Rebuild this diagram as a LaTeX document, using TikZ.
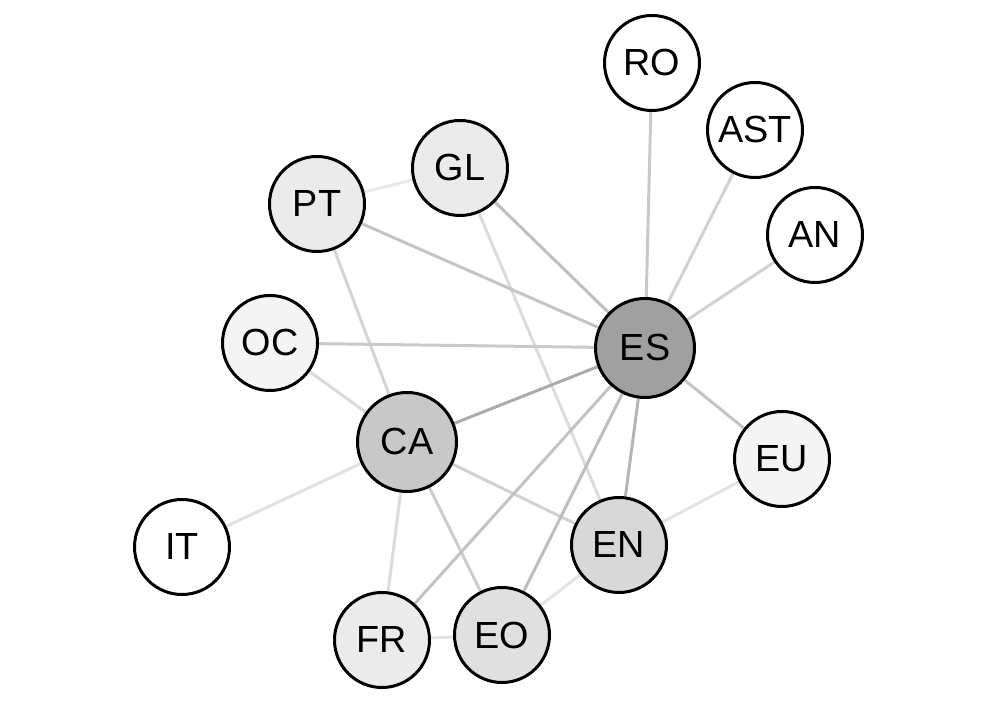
\documentclass[tikz,border=0pt]{standalone}
\usepackage{fontspec}
\setmainfont{Liberation Sans}
\usepackage{tikz}
\usetikzlibrary{backgrounds}
\definecolor{esgray}{HTML}{A0A0A0}
\definecolor{cagray}{HTML}{C8C8C8}
\definecolor{engray}{HTML}{D8D8D8}
\definecolor{eogray}{HTML}{E0E0E0}
\definecolor{ltgray}{HTML}{EBEBEB}
\definecolor{palegray}{HTML}{F4F4F4}

\begin{document}
\begin{tikzpicture}[
    lang/.style={circle,draw=black,line width=1.7pt,fill=white,
                 minimum size=1.9cm,inner sep=0pt,
                 font=\fontsize{21.5}{26}\selectfont},
    big/.style={minimum size=1.98cm},
    link/.style={line width=1.7pt,draw=#1},
    link/.default={black!20}
  ]
    \useasboundingbox (0,0) rectangle (20,14.12);

    % languages (pixel positions / 50)
    \node[lang]                  (ro)  at (13.04,12.86) {RO};
    \node[lang]                  (ast) at (15.10,11.52) {AST};
    \node[lang]                  (an)  at (16.30,9.42)  {AN};
    \node[lang,fill=ltgray]      (gl)  at (9.20,10.76)  {GL};
    \node[lang,fill=ltgray]      (pt)  at (6.34,10.04)  {PT};
    \node[lang,fill=palegray]    (oc)  at (5.40,7.26)   {OC};
    \node[lang,big,fill=esgray]  (es)  at (12.90,7.16)  {ES};
    \node[lang,big,fill=cagray]  (ca)  at (8.14,5.28)   {CA};
    \node[lang,fill=palegray]    (eu)  at (15.64,4.94)  {EU};
    \node[lang]                  (it)  at (3.64,3.18)   {IT};
    \node[lang,fill=engray]      (en)  at (12.38,3.22)  {EN};
    \node[lang,fill=ltgray]      (fr)  at (7.64,1.32)   {FR};
    \node[lang,fill=eogray]      (eo)  at (10.04,1.42)  {EO};

    \begin{scope}[on background layer]
    \draw[link=black!21] (ro)--(es);
    \draw[link=black!18] (ast)--(es);
    \draw[link=black!18] (an)--(es);
    \draw[link=black!25] (gl)--(es);
    \draw[link=black!14] (gl)--(en);
    \draw[link=black!9]  (gl)--(pt);
    \draw[link=black!23] (pt)--(es);
    \draw[link=black!17] (pt)--(ca);
    \draw[link=black!21] (oc)--(es);
    \draw[link=black!15] (oc)--(ca);
    \draw[link=black!33] (ca)--(es);
    \draw[link=black!12] (ca)--(it);
    \draw[link=black!18] (ca)--(en);
    \draw[link=black!14] (ca)--(fr);
    \draw[link=black!20] (ca)--(eo);
    \draw[link=black!23] (es)--(eu);
    \draw[link=black!29] (es)--(en);
    \draw[link=black!26] (es)--(eo);
    \draw[link=black!24] (es)--(fr);
    \draw[link=black!11] (eu)--(en);
    \draw[link=black!11] (en)--(eo);
    \draw[link=black!11] (fr)--(eo);
    \end{scope}
  \end{tikzpicture}
\end{document}
